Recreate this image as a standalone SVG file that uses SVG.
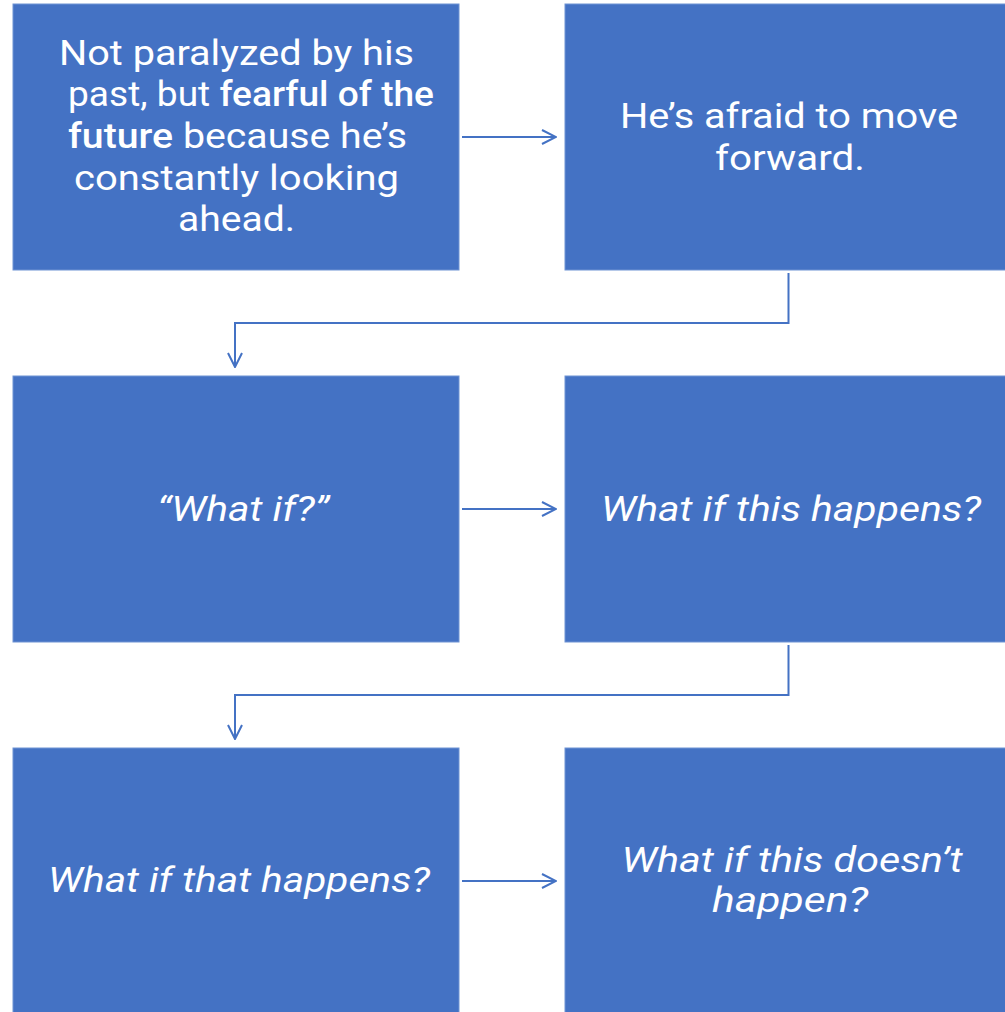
<svg xmlns="http://www.w3.org/2000/svg" width="1005" height="1012" viewBox="0 0 1005 1012">
<style>
.box{fill:#4472C4;stroke:#6F93D3;stroke-width:1}
.t{font-family:Roboto,"Liberation Sans",sans-serif;font-size:35px;fill:#fff;text-anchor:middle}
.i{font-style:italic}
.b{font-weight:500}
.c{fill:none;stroke:#4472C4;stroke-width:2}
</style>
<defs>
<marker id="ah2" viewBox="0 0 16 16" refX="15" refY="8" markerWidth="16" markerHeight="16" markerUnits="userSpaceOnUse" orient="auto">
<path d="M1,1 L15,8 L1,15" fill="none" stroke="#4472C4" stroke-width="2"/>
</marker>
</defs>
<rect width="1005" height="1012" fill="#fff"/>
<g id="connectors">
<path class="c" d="M462,137 H556" marker-end="url(#ah2)"/>
<path class="c" d="M788.5,273 V323 H235 V367" marker-end="url(#ah2)"/>
<path class="c" d="M462,509 H556" marker-end="url(#ah2)"/>
<path class="c" d="M788.5,645 V695 H235 V739" marker-end="url(#ah2)"/>
<path class="c" d="M462,881 H556" marker-end="url(#ah2)"/>
</g>
<g id="n1">
<rect class="box" x="13" y="4" width="446" height="266"/>
<text class="t" x="236.5" y="65" textLength="355" lengthAdjust="spacingAndGlyphs">Not paralyzed by his</text>
<text class="t" x="251" y="106" textLength="366" lengthAdjust="spacingAndGlyphs">past, but <tspan class="b">fearful of the</tspan></text>
<text class="t" x="237.5" y="148" textLength="339" lengthAdjust="spacingAndGlyphs"><tspan class="b">future</tspan> because he’s</text>
<text class="t" x="236.5" y="190" textLength="325" lengthAdjust="spacingAndGlyphs">constantly looking</text>
<text class="t" x="236.5" y="231" textLength="117" lengthAdjust="spacingAndGlyphs">ahead.</text>
</g>
<g id="n2">
<rect class="box" x="565" y="4" width="441" height="266"/>
<text class="t" x="789" y="128" textLength="338" lengthAdjust="spacingAndGlyphs">He’s afraid to move</text>
<text class="t" x="790" y="170" textLength="150" lengthAdjust="spacingAndGlyphs">forward.</text>
</g>
<g id="n3">
<rect class="box" x="13" y="376" width="446" height="266"/>
<text class="t i" x="243" y="521" textLength="172" lengthAdjust="spacingAndGlyphs">“What if?”</text>
</g>
<g id="n4">
<rect class="box" x="565" y="376" width="441" height="266"/>
<text class="t i" x="791" y="521" textLength="380" lengthAdjust="spacingAndGlyphs">What if this happens?</text>
</g>
<g id="n5">
<rect class="box" x="13" y="748" width="446" height="265"/>
<text class="t i" x="239" y="892" textLength="382" lengthAdjust="spacingAndGlyphs">What if that happens?</text>
</g>
<g id="n6">
<rect class="box" x="565" y="748" width="441" height="265"/>
<text class="t i" x="792" y="872" textLength="341" lengthAdjust="spacingAndGlyphs">What if this doesn’t</text>
<text class="t i" x="790" y="912" textLength="156" lengthAdjust="spacingAndGlyphs">happen?</text>
</g>
</svg>
